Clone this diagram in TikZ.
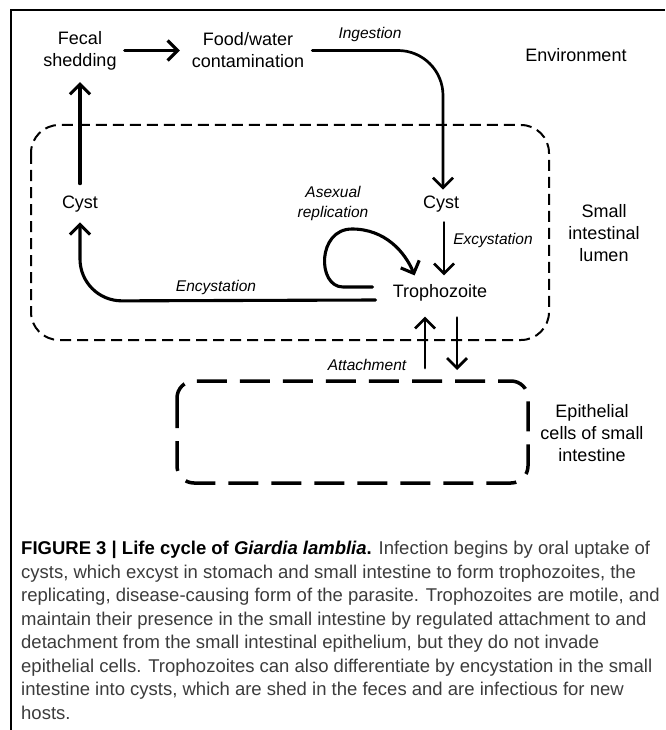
\documentclass[tikz,border=0pt]{standalone}
\usepackage{fontspec}
\setmainfont{Liberation Sans}
\usetikzlibrary{arrows.meta,calc}
\definecolor{capgray}{RGB}{60,60,60}
\begin{document}
\begin{tikzpicture}[x=1pt,y=-1pt,
  lbl/.style={font=\fontsize{18}{22}\selectfont, align=center, inner sep=0pt},
  ital/.style={font=\fontsize{15.5}{20}\selectfont\itshape, align=center, inner sep=0pt},
  arr/.style={line width=3.1pt, line cap=round, -{Straight Barb[length=10pt,width=20pt]}},
  lumenbox/.style={dash pattern=on 11pt off 6pt, line width=2pt, rounded corners=28pt},
  epibox/.style={dash pattern=on 30pt off 13pt, line width=3.5pt, rounded corners=17pt},
]
\useasboundingbox (0,0) rectangle (665,730);
\fill[white] (0,0) rectangle (665,730);
% frame
\draw[line width=2.4pt] (11,730) -- (11,10) -- (665,10);

% labels
\node[lbl] (fecal) at (80,50.5) {Fecal\\shedding};
\node[lbl] (food) at (248,50.5) {Food/water\\contamination};
\node[lbl] (env) at (576,55) {Environment};
\node[ital] (ingest) at (370,34) {Ingestion};
\node[lbl] (cystL) at (80,204) {Cyst};
\node[lbl] (cystR) at (441,204) {Cyst};
\node[ital] (asex) at (333,203) {Asexual\\replication};
\node[lbl] (lumenlbl) at (604,233) {Small\\intestinal\\lumen};
\node[ital] (excyst) at (493,240) {Excystation};
\node[lbl] (troph) at (440,293) {Trophozoite};
\node[ital] (encyst) at (216,287) {Encystation};
\node[ital] (attach) at (367,365) {Attachment};
\node[lbl] (epilbl) at (592,433) {Epithelial\\cells of small\\intestine};

% compartments
\draw[lumenbox] (31,125) rectangle (549,340);
\draw[epibox] (177,381) rectangle (528,483);
\coordinate (epitop) at (441,381);

% arrows
\draw[arr] ($(fecal.east)+(8,0)$) -- ($(food.west)+(-12,0)$);
\draw[arr, line width=2.7pt, rounded corners=45pt] ($(food.east)+(8,0)$) -- (443,50.5) -- ($(cystR.north)+(2,-6)$);
\draw[arr] ($(cystL.north)+(0,-12)$) -- ($(fecal.south)+(0,12)$);
\draw[arr, rounded corners=42pt] ($(troph.west)+(-17,7)$) -- (80,301) -- ($(cystL.south)+(0,10)$);
\draw[arr] ($(troph.west)+(-20,-6)$) -- (343,287) .. controls (317,287) and (317,229) .. (352,229) .. controls (385,229) and (405,252) .. ($(troph.north west)+(22,-9)$);
\draw[arr, line width=2.7pt] ($(cystR.south)+(3,10)$) -- ($(troph.north)+(4,-9)$);
\draw[arr, line width=2.7pt] ($(epitop)+(-16,-13)$) -- ($(troph.south)+(-15,15)$);
\draw[arr, line width=2.7pt] ($(troph.south)+(17,16)$) -- ($(epitop)+(16,-11)$);

% caption (base anchor = baseline of the last line)
\node[anchor=base west, align=left, inner sep=0pt, font=\fontsize{18.5}{23.5}\selectfont, text=capgray] (cap) at (21,719) {%
{\color{black}\bfseries FIGURE 3 | Life cycle of \textit{Giardia lamblia}.} Infection begins by oral uptake of\\
cysts, which excyst in stomach and small intestine to form trophozoites, the\\
replicating, disease-causing form of the parasite. Trophozoites are motile, and\\
maintain their presence in the small intestine by regulated attachment to and\\
detachment from the small intestinal epithelium, but they do not invade\\
epithelial cells. Trophozoites can also differentiate by encystation in the small\\
intestine into cysts, which are shed in the feces and are infectious for new\\
hosts.};
\end{tikzpicture}
\end{document}
